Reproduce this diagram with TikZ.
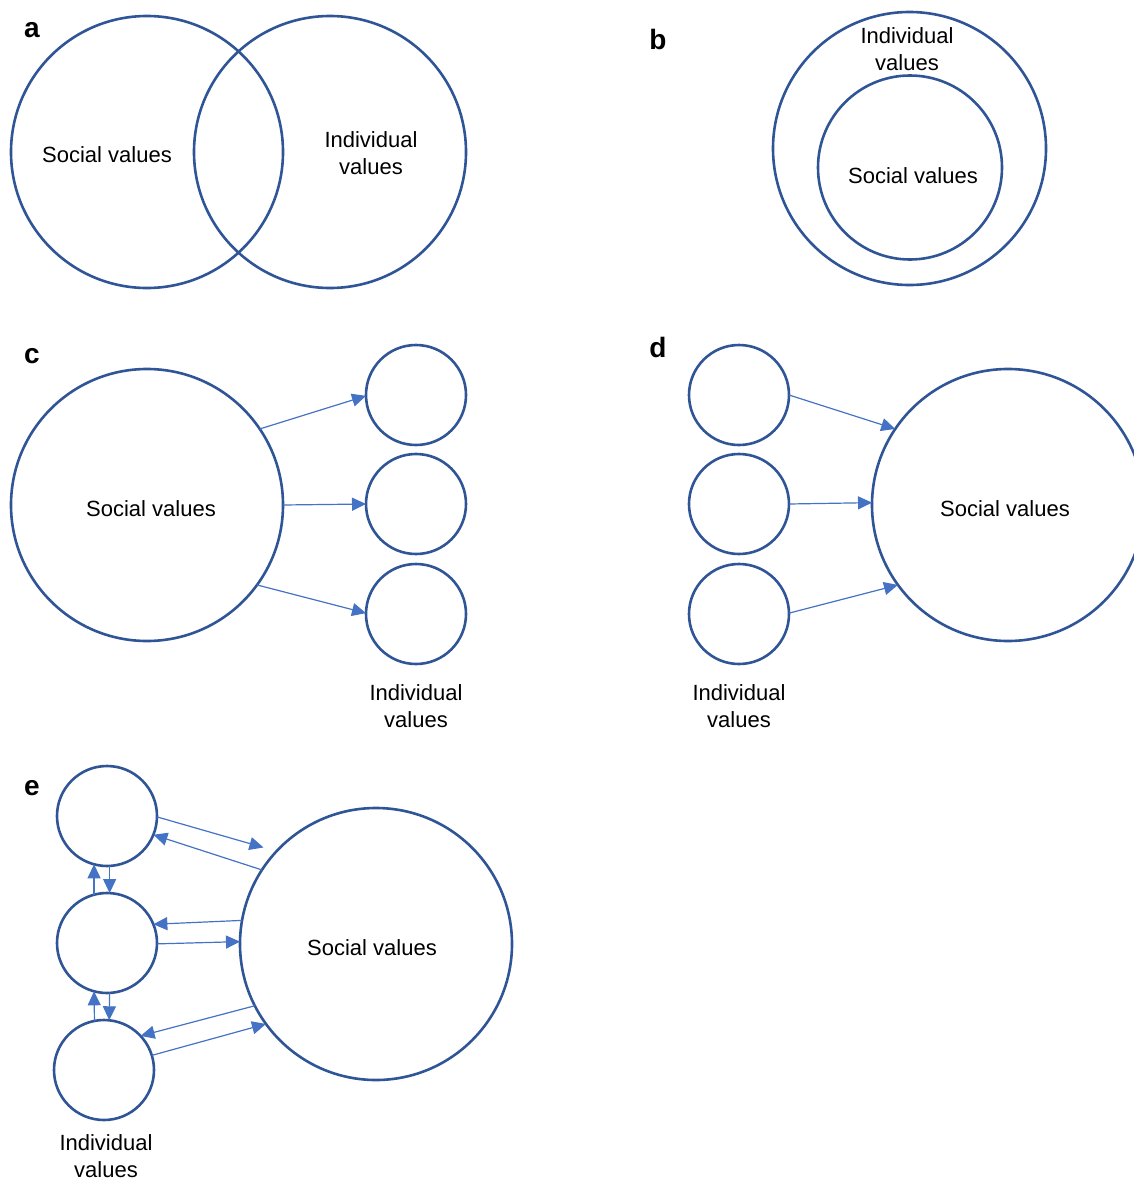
\documentclass[tikz,border=0pt]{standalone}
\usepackage{fontspec}
\setmainfont{Liberation Sans}
\usetikzlibrary{arrows.meta}
\definecolor{circblue}{HTML}{2F5597}
\definecolor{arrblue}{HTML}{4472C4}
\begin{document}
\begin{tikzpicture}[x=0.5pt,y=-0.5pt,
  circ/.style={circle,draw=circblue,line width=1.3pt,inner sep=0pt,outer sep=0pt},
  bigc/.style={circ,minimum size=136pt},
  smallc/.style={circ,minimum size=50pt},
  lbl/.style={font=\fontsize{11}{13.3}\selectfont,align=center,inner sep=0pt},
  panel/.style={font=\fontsize{14}{16}\selectfont\bfseries,anchor=base,inner sep=0pt},
  arr/.style={draw=arrblue,line width=0.6pt,-{Triangle[length=7pt,width=6.5pt]}}]
\useasboundingbox (0,0) rectangle (1134,1178);
\clip (0,0) rectangle (1134,1178);

% ---- panel a
\node[panel] (la) at (32,38) {a};
\node[bigc] (aS) at (147,152) {};
\node[bigc] (aI) at (330,152) {};
\node[lbl] (aSt) at (107,155) {Social values};
\node[lbl] (aIt) at (371,153) {Individual\\values};

% ---- panel b
\node[panel] (lb) at (658,49) {b};
\node[circ,minimum size=136.5pt] (bI) at (909.5,148.5) {};
\node[circ,minimum size=92pt] (bS) at (910,167.5) {};
\node[lbl] (bIt) at (907,49) {Individual\\values};
\node[lbl] (bSt) at (913,176) {Social values};

% ---- panel c
\node[panel] (lc) at (32,363) {c};
\node[bigc] (cS) at (147,505) {};
\node[smallc] (c1) at (416,395) {};
\node[smallc] (c2) at (416,504) {};
\node[smallc] (c3) at (416,614) {};
\node[lbl] (cSt) at (151,509) {Social values};
\node[lbl] (cIt) at (416,706) {Individual\\values};
\draw[arr] (cS.34.5) -- (c1.181);
\draw[arr] (cS.0.8) -- (c2.180);
\draw[arr] (cS.-36.2) -- (c3.179);

% ---- panel d
\node[panel] (ld) at (658,357) {d};
\node[smallc] (d1) at (739,395) {};
\node[smallc] (d2) at (739,504) {};
\node[smallc] (d3) at (739,614) {};
\node[bigc] (dS) at (1008,505) {};
\node[lbl] (dSt) at (1005,509) {Social values};
\node[lbl] (dIt) at (739,706) {Individual\\values};
\draw[arr] (d1.0) -- (dS.146.2);
\draw[arr] (d2.0) -- (dS.179.2);
\draw[arr] (d3.1) -- (dS.216.2);

% ---- panel e
\node[panel] (le) at (32,795) {e};
\node[smallc] (e1) at (107,816) {};
\node[smallc] (e2) at (107,943) {};
\node[smallc] (e3) at (104,1070) {};
\node[bigc] (eS) at (376,944) {};
\node[lbl] (eSt) at (372,948) {Social values};
\node[lbl] (eIt) at (106,1156) {Individual\\values};
\draw[arr,shorten >=6.8pt] (e1.-1.1) -- (eS.137.4);
\draw[arr] (eS.147.8) -- (e1.-22.4);
\draw[arr] (e1.-87.7) -- (e2.87.7);
\draw[arr] (e2.105) -- (e1.255);
\draw[arr] (eS.170.8) -- (e2.22.4);
\draw[arr] (e2.-1.1) -- (eS.179.6);
\draw[arr] (e2.-87.8) -- (e3.84);
\draw[arr] (e3.101.3) -- (e2.255);
\draw[arr] (eS.207.1) -- (e3.43.4);
\draw[arr] (e3.17.7) -- (eS.216.3);
\end{tikzpicture}
\end{document}
